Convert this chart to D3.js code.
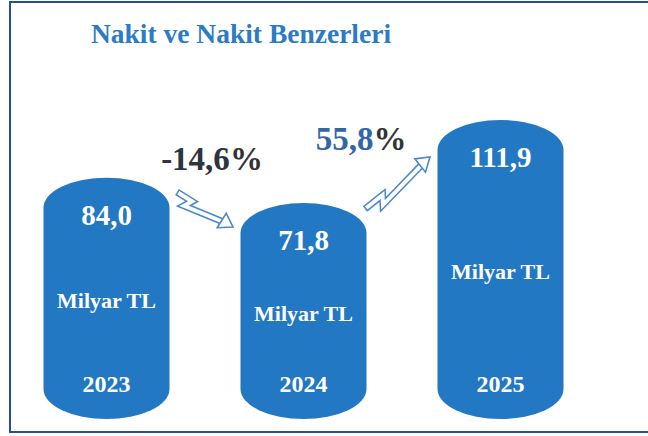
<!DOCTYPE html>
<html>
<head>
<meta charset="utf-8">
<script src="https://cdn.jsdelivr.net/npm/d3@7"></script>
<style>
  html, body { margin: 0; padding: 0; background: #fff; }
  svg { display: block; }
  text { font-family: "Liberation Serif", "Times New Roman", "DejaVu Serif", serif; }
</style>
</head>
<body>
<div id="chart"></div>
<script>
// values
const title = "Nakit ve Nakit Benzerleri";
const years = ["2023", "2024", "2025"];
const values = [84.0, 71.8, 111.9];
const changes = [-14.6, 55.8];
const unit = "Milyar TL";

const width = 648, height = 436;
const bottom = 419;
const barW = 126;

const svg = d3.select("#chart")
  .append("svg")
  .attr("width", width)
  .attr("height", height);

// frame (right side runs off the picture)
svg.append("rect")
  .attr("x", 10).attr("y", 2)
  .attr("width", 680).attr("height", 430)
  .attr("fill", "none")
  .attr("stroke", "#24508f")
  .attr("stroke-width", 2);

svg.append("text")
  .attr("x", 241).attr("y", 43)
  .attr("text-anchor", "middle")
  .attr("font-weight", "bold")
  .attr("font-size", 27.5)
  .attr("fill", "#2b7bc6")
  .text(title);

const xScale = d3.scalePoint()
  .domain(years)
  .range([106.5, 500.5]);

const yScale = d3.scaleLinear()
  .domain([0, 120])
  .range([351.6, 103.2]);

const tr = d3.formatLocale({decimal: ",", thousands: ".", grouping: [3], currency: ["", ""], minus: "-"});
const fmt = tr.format(".1f");

const data = years.map(function(y, i) { return {year: y, value: values[i]}; });

const bars = svg.selectAll("g.bar")
  .data(data)
  .enter()
  .append("g")
  .attr("class", "bar");

bars.append("rect")
  .attr("x", function(d) { return xScale(d.year) - barW / 2; })
  .attr("y", function(d) { return yScale(d.value); })
  .attr("width", barW)
  .attr("height", function(d) { return bottom - yScale(d.value); })
  .attr("rx", barW / 2)
  .attr("ry", 30)
  .attr("fill", "#2378c4");

bars.append("text")
  .attr("x", function(d) { return xScale(d.year); })
  .attr("y", function(d) { return yScale(d.value) + 47; })
  .attr("text-anchor", "middle")
  .attr("font-weight", "bold")
  .attr("font-size", 29)
  .attr("fill", "#fff")
  .text(function(d) { return fmt(d.value); });

bars.append("text")
  .attr("x", function(d) { return xScale(d.year); })
  .attr("y", function(d) { return (yScale(d.value) + 47 + 392) / 2; })
  .attr("text-anchor", "middle")
  .attr("font-weight", "bold")
  .attr("font-size", 22)
  .attr("fill", "#fff")
  .text(unit);

bars.append("text")
  .attr("x", function(d) { return xScale(d.year); })
  .attr("y", 392)
  .attr("text-anchor", "middle")
  .attr("font-weight", "bold")
  .attr("font-size", 24)
  .attr("fill", "#fff")
  .text(function(d) { return d.year; });

// zigzag arrows between bars
function zigArrow(tail, tip) {
  const dx = tip[0] - tail[0], dy = tip[1] - tail[1];
  const L = Math.sqrt(dx * dx + dy * dy);
  const u = [dx / L, dy / L], n = [-u[1], u[0]];
  const pt = function(a, b) { return [tail[0] + a * u[0] + b * n[0], tail[1] + a * u[1] + b * n[1]]; };
  const g = svg.append("g");
  const line = d3.line();
  const shaft = [pt(0, 0), pt(0.27 * L, 0), pt(0.2 * L, 8), pt(L - 12, 1)];
  g.append("path")
    .attr("d", line(shaft))
    .attr("fill", "none")
    .attr("stroke", "#4a87cb")
    .attr("stroke-width", 7)
    .attr("stroke-linejoin", "miter");
  g.append("path")
    .attr("d", line([pt(1.5, 0)].concat(shaft.slice(1))))
    .attr("fill", "none")
    .attr("stroke", "#fff")
    .attr("stroke-width", 4)
    .attr("stroke-linejoin", "miter");
  g.append("path")
    .attr("d", line([pt(L - 13, -8), pt(L, 0), pt(L - 13, 9)]) + "Z")
    .attr("fill", "#fff")
    .attr("stroke", "#4a87cb")
    .attr("stroke-width", 1.6)
    .attr("stroke-linejoin", "miter");
}

const arrowPos = [
  {tail: [177, 192], tip: [233, 227]},
  {tail: [365, 209], tip: [430, 157]}
];
const labelPos = [[212, 170], [361, 150]];
const labelFill = ["#2e3340", "#3466a6"];

changes.forEach(function(c, i) {
  zigArrow(arrowPos[i].tail, arrowPos[i].tip);
  const t = svg.append("text")
    .attr("x", labelPos[i][0])
    .attr("y", labelPos[i][1])
    .attr("text-anchor", "middle")
    .attr("font-weight", "bold")
    .attr("font-size", 33)
    .attr("fill", labelFill[i]);
  t.append("tspan").text(fmt(c));
  t.append("tspan").attr("fill", "#333").text("%");
});
</script>
</body>
</html>
